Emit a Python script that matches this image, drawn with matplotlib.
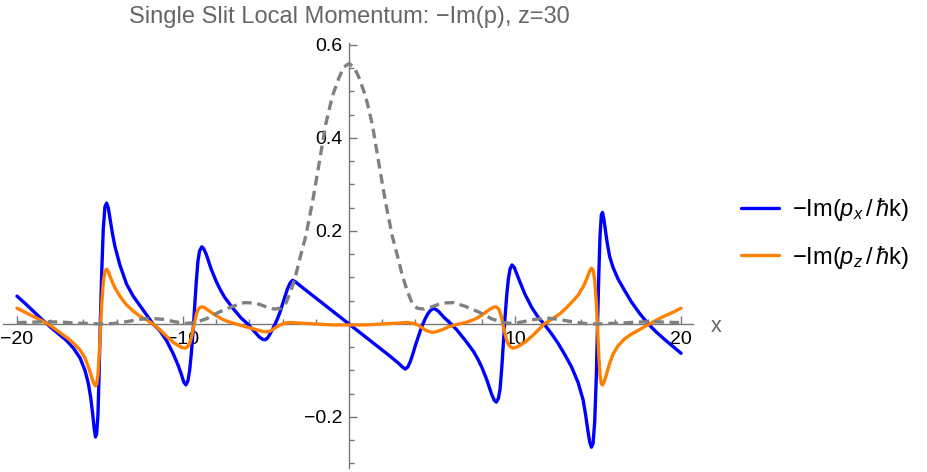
import matplotlib
matplotlib.use("Agg")
import matplotlib.pyplot as plt
from matplotlib.ticker import MultipleLocator, FixedLocator

plt.rcParams['font.family'] = ['Liberation Sans', 'DejaVu Sans']
plt.rcParams['mathtext.fontset'] = 'custom'
plt.rcParams['mathtext.rm'] = 'Liberation Sans'
plt.rcParams['mathtext.it'] = 'Liberation Sans:italic'
plt.rcParams['mathtext.bf'] = 'Liberation Sans:bold'

# ---------------- data ----------------
# -Im(p_x / hbar k)
x_px = [-20.0, -19.5, -19.0, -18.5, -18.0, -17.5, -17.0, -16.6, -16.2, -15.9,
        -15.7, -15.55, -15.45, -15.35, -15.27, -15.2, -15.12, -15.05, -14.98, -14.9,
        -14.8, -14.7, -14.6, -14.5, -14.4, -14.25, -14.1, -13.8, -13.4, -13.0,
        -12.6, -12.2, -11.8, -11.4, -11.0, -10.6, -10.3, -10.1, -9.95, -9.82,
        -9.7, -9.6, -9.5, -9.4, -9.3, -9.2, -9.1, -9.0, -8.87, -8.75,
        -8.6, -8.3, -8.0, -7.77, -7.5, -7.0, -6.5, -6.1, -5.7, -5.4,
        -5.2, -5.06, -4.9, -4.75, -4.6, -4.45, -4.3, -4.15, -4.0, -3.85,
        -3.7, -3.55, -3.4, -3.2, -3.0, -2.5, -2.0, -1.5, -1.0, -0.5,
        0.0, 0.5, 1.0, 1.5, 2.0, 2.5, 3.0, 3.2, 3.4, 3.55,
        3.7, 3.85, 4.0, 4.15, 4.3, 4.45, 4.6, 4.75, 4.9, 5.06,
        5.2, 5.4, 5.7, 6.15, 6.5, 7.0, 7.5, 7.77, 8.0, 8.3,
        8.6, 8.75, 8.87, 9.0, 9.1, 9.2, 9.3, 9.4, 9.5, 9.6,
        9.7, 9.82, 9.95, 10.1, 10.3, 10.6, 11.0, 11.4, 11.75, 12.2,
        12.6, 13.0, 13.4, 13.8, 14.1, 14.25, 14.4, 14.5, 14.6, 14.7,
        14.8, 14.9, 14.97, 15.05, 15.12, 15.2, 15.27, 15.35, 15.45, 15.55,
        15.7, 15.9, 16.2, 16.6, 17.0, 17.5, 18.0, 18.5, 19.0, 19.5,
        20.0]
y_px = [0.060, 0.044, 0.027, 0.010, -0.006, -0.021, -0.036, -0.052, -0.073, -0.100,
        -0.128, -0.160, -0.190, -0.224, -0.243, -0.236, -0.195, -0.105, 0.000, 0.105,
        0.205, 0.252, 0.260, 0.250, 0.228, 0.195, 0.167, 0.127, 0.086, 0.060,
        0.040, 0.020, 0.000, -0.014, -0.035, -0.063, -0.088, -0.108, -0.125, -0.131,
        -0.122, -0.100, -0.065, -0.020, 0.035, 0.090, 0.135, 0.157, 0.166, 0.162,
        0.150, 0.118, 0.092, 0.075, 0.058, 0.034, 0.013, 0.000, -0.016, -0.028,
        -0.033, -0.034, -0.030, -0.021, -0.011, 0.000, 0.012, 0.026, 0.043, 0.060,
        0.076, 0.088, 0.094, 0.090, 0.084, 0.070, 0.056, 0.042, 0.028, 0.014,
        0.000, -0.014, -0.028, -0.042, -0.056, -0.070, -0.085, -0.092, -0.097, -0.092,
        -0.080, -0.064, -0.046, -0.030, -0.014, 0.000, 0.012, 0.022, 0.029, 0.033,
        0.032, 0.027, 0.015, 0.000, -0.013, -0.035, -0.059, -0.076, -0.093, -0.120,
        -0.152, -0.164, -0.168, -0.160, -0.140, -0.095, -0.040, 0.015, 0.062, 0.097,
        0.118, 0.127, 0.122, 0.108, 0.090, 0.064, 0.036, 0.014, 0.000, -0.021,
        -0.042, -0.066, -0.092, -0.126, -0.163, -0.195, -0.232, -0.254, -0.265, -0.257,
        -0.210, -0.110, 0.000, 0.110, 0.190, 0.235, 0.240, 0.226, 0.200, 0.175,
        0.145, 0.122, 0.097, 0.072, 0.048, 0.023, 0.001, -0.017, -0.033, -0.048,
        -0.063]

# -Im(p_z / hbar k)
x_pz = [-20.0, -19.5, -19.0, -18.5, -18.0, -17.5, -17.0, -16.6, -16.2, -15.9,
        -15.7, -15.55, -15.45, -15.35, -15.27, -15.2, -15.12, -15.05, -14.98, -14.9,
        -14.8, -14.7, -14.6, -14.5, -14.4, -14.25, -14.1, -13.8, -13.4, -13.0,
        -12.6, -12.2, -11.8, -11.4, -11.0, -10.6, -10.3, -10.1, -9.88, -9.75,
        -9.6, -9.5, -9.4, -9.3, -9.2, -9.1, -9.0, -8.87, -8.7, -8.5,
        -8.3, -8.0, -7.77, -7.5, -7.0, -6.5, -6.0, -5.7, -5.4, -5.2,
        -4.95, -4.75, -4.6, -4.4, -4.2, -4.0, -3.7, -3.4, -3.0, -2.5,
        -2.0, -1.5, -1.0, -0.5, 0.0, 0.5, 1.0, 1.5, 2.0, 2.5,
        3.0, 3.5, 3.8, 4.0, 4.2, 4.4, 4.6, 4.8, 5.0, 5.2,
        5.4, 5.7, 6.0, 6.5, 7.0, 7.5, 7.77, 8.0, 8.3, 8.5,
        8.7, 8.85, 9.0, 9.1, 9.2, 9.3, 9.4, 9.5, 9.6, 9.75,
        9.88, 10.1, 10.3, 10.6, 11.0, 11.4, 11.75, 12.2, 12.7, 13.1,
        13.5, 13.8, 14.1, 14.25, 14.4, 14.5, 14.6, 14.7, 14.8, 14.9,
        14.98, 15.05, 15.12, 15.2, 15.27, 15.35, 15.45, 15.55, 15.7, 15.9,
        16.2, 16.6, 17.0, 17.5, 18.0, 18.5, 19.0, 19.5, 20.0]
y_pz = [0.034, 0.025, 0.016, 0.007, -0.003, -0.016, -0.029, -0.041, -0.056, -0.073,
        -0.092, -0.108, -0.120, -0.129, -0.133, -0.130, -0.110, -0.070, -0.020, 0.040,
        0.090, 0.114, 0.118, 0.113, 0.103, 0.090, 0.078, 0.060, 0.041, 0.028,
        0.017, 0.009, 0.000, -0.012, -0.026, -0.039, -0.046, -0.050, -0.052, -0.050,
        -0.042, -0.030, -0.013, 0.005, 0.020, 0.030, 0.035, 0.037, 0.035, 0.030,
        0.025, 0.018, 0.013, 0.008, 0.002, -0.003, -0.008, -0.011, -0.014, -0.016,
        -0.017, -0.015, -0.012, -0.007, -0.003, 0.000, 0.003, 0.003, 0.002, 0.001,
        0.000, -0.001, -0.002, -0.002, -0.002, -0.002, -0.002, -0.001, 0.000, 0.001,
        0.002, 0.003, 0.002, 0.000, -0.003, -0.008, -0.013, -0.016, -0.018, -0.017,
        -0.015, -0.011, -0.006, -0.001, 0.003, 0.009, 0.014, 0.019, 0.027, 0.032,
        0.036, 0.037, 0.033, 0.025, 0.012, -0.005, -0.022, -0.035, -0.044, -0.050,
        -0.052, -0.050, -0.046, -0.039, -0.027, -0.013, 0.000, 0.010, 0.022, 0.035,
        0.050, 0.062, 0.080, 0.091, 0.105, 0.114, 0.120, 0.116, 0.095, 0.045,
        -0.015, -0.070, -0.110, -0.128, -0.131, -0.126, -0.115, -0.103, -0.085, -0.065,
        -0.047, -0.032, -0.022, -0.012, -0.002, 0.008, 0.017, 0.025, 0.034]

# grey dashed curve
x_rho = [-20.0, -19.0, -18.3, -17.3, -16.4, -15.6, -15.0, -14.2, -13.4, -12.6,
         -11.9, -11.2, -10.5, -9.9, -9.3, -8.6, -7.8, -7.0, -6.3, -5.6,
         -5.0, -4.5, -4.1, -3.8, -3.5, -3.2, -3.0, -2.6, -2.2, -1.8,
         -1.4, -1.0, -0.6, -0.3, 0.0, 0.3, 0.6, 1.0, 1.4, 1.8,
         2.2, 2.6, 3.0, 3.2, 3.5, 3.8, 4.1, 4.5, 5.0, 5.6,
         6.3, 7.0, 7.8, 8.6, 9.3, 9.9, 10.5, 11.2, 11.9, 12.6,
         13.4, 14.2, 15.0, 15.6, 16.4, 17.3, 18.3, 19.0, 20.0]
y_rho = [0.003, 0.004, 0.005, 0.004, 0.002, 0.001, 0.000, 0.001, 0.005, 0.010,
         0.012, 0.010, 0.005, 0.001, 0.003, 0.011, 0.026, 0.038, 0.046, 0.045,
         0.037, 0.032, 0.034, 0.045, 0.071, 0.106, 0.135, 0.190, 0.262, 0.345,
         0.430, 0.490, 0.530, 0.553, 0.560, 0.553, 0.530, 0.490, 0.430, 0.345,
         0.262, 0.190, 0.135, 0.106, 0.072, 0.045, 0.034, 0.032, 0.037, 0.045,
         0.046, 0.038, 0.026, 0.011, 0.003, 0.001, 0.005, 0.010, 0.013, 0.010,
         0.005, 0.001, 0.000, 0.001, 0.002, 0.004, 0.005, 0.004, 0.003]

x_major_ticks = [-20, -10, 10, 20]
x_tick_labels = ['−20', '−10', '10', '20']
y_major_ticks = [-0.2, 0.2, 0.4, 0.6]
y_tick_labels = ['−0.2', '0.2', '0.4', '0.6']
legend_labels = [r"−Im($p_x\,/\,\hbar$k)", r"−Im($p_z\,/\,\hbar$k)"]
title_text = "Single Slit Local Momentum: −Im(p), z=30"

# ---------------- figure ----------------
W, H = 928, 472
fig = plt.figure(figsize=(W / 100, H / 100), dpi=100)
ax = fig.add_axes([3 / W, 4 / H, 690 / W, 425 / H])
ax.set_xlim(-20.84, 20.72)
ax.set_ylim(-0.3097, 0.6043)

axis_gray = '#777777'
for side in ['top', 'right']:
    ax.spines[side].set_visible(False)
ax.spines['left'].set_position(('data', 0))
ax.spines['bottom'].set_position(('data', 0))
for side in ['left', 'bottom']:
    ax.spines[side].set_color(axis_gray)
    ax.spines[side].set_linewidth(1.0)
    ax.spines[side].set_zorder(1)

ax.xaxis.set_major_locator(FixedLocator(x_major_ticks))
ax.xaxis.set_minor_locator(MultipleLocator(2))
ax.yaxis.set_major_locator(FixedLocator(y_major_ticks))
ax.yaxis.set_minor_locator(MultipleLocator(0.05))
ax.set_xticklabels(x_tick_labels)
ax.set_yticklabels(y_tick_labels)
ax.tick_params(which='both', direction='in', color=axis_gray, width=1.0)
ax.tick_params(which='major', length=6)
ax.tick_params(which='minor', length=3.5)
ax.tick_params(axis='x', which='major', labelsize=14, pad=5, labelcolor='black')
ax.tick_params(axis='y', which='major', labelsize=14, pad=4.5, labelcolor='black')
ax.patch.set_visible(False)

l1, = ax.plot(x_px, y_px, color='#0000FF', lw=2.4, zorder=3,
              solid_joinstyle='round', solid_capstyle='round')
l2, = ax.plot(x_pz, y_pz, color='#FF8000', lw=2.4, zorder=4,
              solid_joinstyle='round', solid_capstyle='round')
ax.plot(x_rho, y_rho, color='#808080', lw=2.4, zorder=5, dashes=(2.9, 1.7),
        dash_capstyle='butt')

fig.text(716 / W, 1 - 327 / H, 'x', ha='center', va='center',
         fontsize=15.5, color='#666666')
fig.text(349 / W, 1 - 17.5 / H, title_text, ha='center', va='center',
         fontsize=17, color='#666666')

fig.legend([l1, l2], legend_labels, loc='center left',
           bbox_to_anchor=(741 / W, 1 - 233.5 / H), frameon=False,
           fontsize=17, handlelength=1.6, handletextpad=0.55,
           labelspacing=0.85, borderpad=0, borderaxespad=0)

fig.savefig('out.png', dpi=100)
